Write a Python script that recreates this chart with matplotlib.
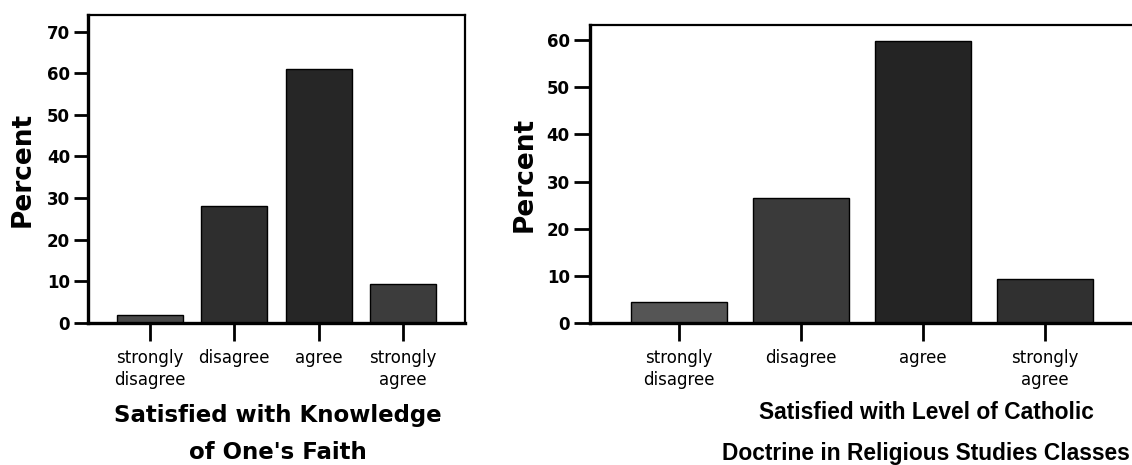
import numpy as np
import matplotlib.pyplot as plt

plt.rcParams["font.family"] = "DejaVu Sans"

categories = ["strongly\ndisagree", "disagree", "agree", "strongly\nagree"]
categories_right = ["strongly\ndisagree", "disagree", "agree", "strongly\nagree"]
knowledge_pct = [1.9, 28.2, 61.0, 9.3]
doctrine_pct = [4.5, 26.5, 59.8, 9.4]
knowledge_ticks = [0, 10, 20, 30, 40, 50, 60, 70]
doctrine_ticks = [0, 10, 20, 30, 40, 50, 60]
knowledge_colors = ["#4a4a4a", "#2e2e2e", "#262626", "#3c3c3c"]
doctrine_colors = ["#555555", "#3a3a3a", "#242424", "#303030"]

fig = plt.figure(figsize=(11.32, 4.65), dpi=100)
ax1 = fig.add_axes([0.0777, 0.3054, 0.333, 0.6624])
ax2 = fig.add_axes([0.5212, 0.3054, 0.4806, 0.6409])


def bar_panel(ax, values, colors, yticks, ytop, ticklen, xlab_y):
    x = np.arange(len(values))
    ax.bar(x, values, width=0.78, color=colors, edgecolor="black", linewidth=1.0, zorder=2)
    ax.set_xlim(-0.73, 3.73)
    ax.set_ylim(0, ytop)
    ax.set_yticks(yticks)
    ax.set_xticks(x)
    ax.tick_params(axis="y", direction="out", length=ticklen, width=2.0, labelsize=12, pad=3)
    ax.tick_params(axis="x", direction="out", length=13, width=2.0, labelsize=12, pad=6)
    for lab in ax.get_yticklabels():
        lab.set_fontweight("bold")
    for s in ["left", "bottom"]:
        ax.spines[s].set_linewidth(2.4)
    for s in ["top", "right"]:
        ax.spines[s].set_linewidth(1.6)
    ax.set_ylabel("Percent", fontsize=19, fontweight="bold", va="center")
    ax.yaxis.set_label_coords(xlab_y, 0.5)


bar_panel(ax1, knowledge_pct, knowledge_colors, knowledge_ticks, 74.0, 10, -0.172)
ax1.set_xticklabels(categories, linespacing=1.25)
bar_panel(ax2, doctrine_pct, doctrine_colors, doctrine_ticks, 63.2, 11.5, -0.121)
ax2.set_xticklabels(categories_right, linespacing=1.25)

fig.text(278 / 1132, 1 - 434 / 465, "Satisfied with Knowledge\nof One's Faith",
         ha="center", va="center", fontsize=16.5, fontweight="bold", linespacing=1.8)
fig.text(926 / 1132, 1 - 433 / 465, "Satisfied with Level of Catholic\nDoctrine in Religious Studies Classes",
         ha="center", va="center", fontsize=16.4, fontweight="bold", linespacing=2.0,
         family="Liberation Sans")

fig.savefig("out.png", dpi=100)
